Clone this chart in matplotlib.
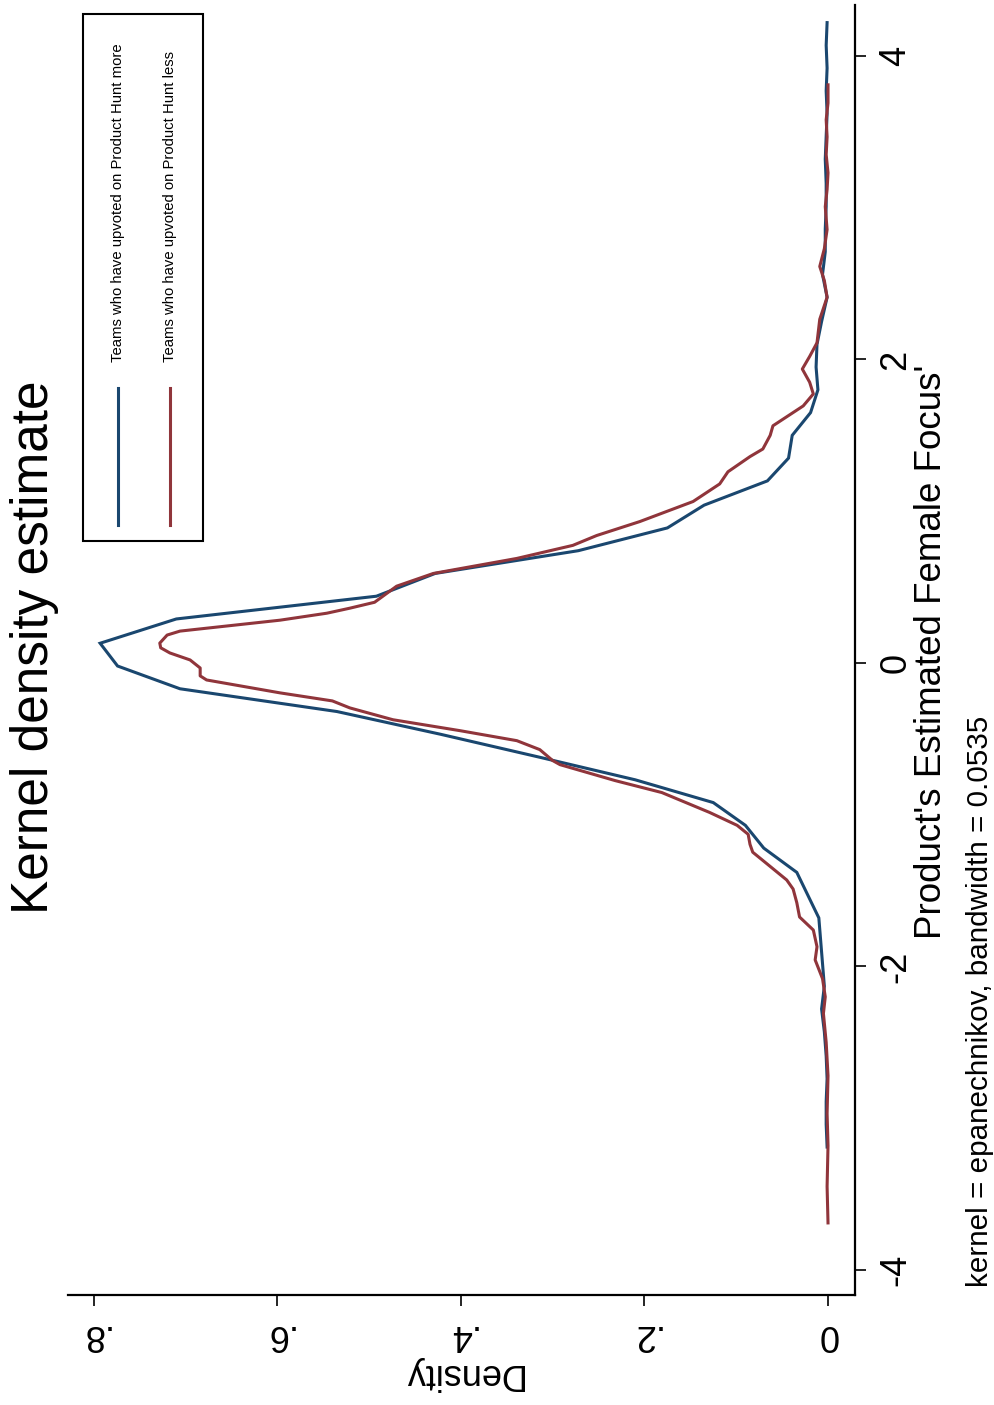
import matplotlib
matplotlib.use("Agg")
import matplotlib.pyplot as plt
from matplotlib.patches import Rectangle
from matplotlib.lines import Line2D

plt.rcParams['font.family'] = ['Liberation Sans', 'DejaVu Sans']

# kdensity, teams who have upvoted on Product Hunt more (blue)
more_x = [-3.19, -3.04, -2.89, -2.74, -2.59, -2.43, -2.28, -2.13, -1.98, -1.83,
          -1.68, -1.53, -1.38, -1.22, -1.07, -0.92, -0.77, -0.62, -0.47, -0.32,
          -0.17, -0.02, 0.13, 0.29, 0.44, 0.59, 0.74, 0.89, 1.04, 1.20,
          1.35, 1.50, 1.65, 1.80, 1.95, 2.10, 2.25, 2.41, 2.56, 2.71,
          2.86, 3.01, 3.16, 3.32, 3.47, 3.62, 3.77, 3.92, 4.07, 4.22]
more_d = [0.001, 0.002, 0.002, 0.001, 0.002, 0.004, 0.007, 0.004, 0.006, 0.008,
          0.010, 0.022, 0.034, 0.070, 0.090, 0.125, 0.210, 0.315, 0.422, 0.535,
          0.706, 0.774, 0.793, 0.710, 0.492, 0.428, 0.272, 0.175, 0.135, 0.066,
          0.043, 0.039, 0.019, 0.011, 0.013, 0.012, 0.007, 0.001, 0.006, 0.003,
          0.003, 0.002, 0.002, 0.003, 0.002, 0.001, 0.002, 0.001, 0.002, 0.001]

# kdensity, teams who have upvoted on Product Hunt less (red)
less_x = [-3.69, -3.45, -3.18, -2.97, -2.72, -2.50, -2.31, -2.20, -2.08, -1.957,
          -1.87, -1.76, -1.674, -1.58, -1.49, -1.43, -1.326, -1.247, -1.195, -1.129,
          -1.07, -0.985, -0.854, -0.775, -0.67, -0.643, -0.571, -0.512, -0.446, -0.374,
          -0.296, -0.25, -0.197, -0.112, -0.085, -0.033, 0.02, 0.066, 0.10, 0.131,
          0.184, 0.21, 0.282, 0.328, 0.361, 0.40, 0.506, 0.59, 0.689, 0.775,
          0.84, 0.932, 1.064, 1.18, 1.26, 1.36, 1.41, 1.50, 1.563, 1.694,
          1.773, 1.85, 1.937, 2.02, 2.11, 2.265, 2.41, 2.52, 2.613, 2.73,
          2.856, 3.007, 3.12, 3.23, 3.35, 3.467, 3.58, 3.69, 3.81]
less_d = [0.000, 0.001, 0.000, 0.001, 0.000, 0.002, 0.005, 0.003, 0.006, 0.014,
          0.012, 0.016, 0.031, 0.034, 0.038, 0.045, 0.066, 0.082, 0.085, 0.087,
          0.099, 0.129, 0.181, 0.232, 0.292, 0.300, 0.314, 0.339, 0.401, 0.474,
          0.521, 0.540, 0.597, 0.677, 0.684, 0.684, 0.695, 0.717, 0.727, 0.728,
          0.720, 0.706, 0.597, 0.546, 0.521, 0.494, 0.470, 0.430, 0.339, 0.278,
          0.252, 0.205, 0.147, 0.118, 0.109, 0.085, 0.071, 0.063, 0.060, 0.027,
          0.016, 0.020, 0.028, 0.020, 0.012, 0.009, 0.001, 0.004, 0.009, 0.004,
          0.001, 0.003, 0.001, 0.000, 0.002, 0.001, 0.002, 0.000, 0.000]

x_ticks = [-4, -2, 0, 2, 4]
x_tick_labels = ['-4', '-2', '0', '2', '4']
d_ticks = [0, 0.2, 0.4, 0.6, 0.8]
d_tick_labels = ['0', '.2', '.4', '.6', '.8']
series_labels = ['Teams who have upvoted on Product Hunt more',
                 'Teams who have upvoted on Product Hunt less']

BLUE = '#1a476f'
RED = '#90353b'
W, H = 995, 1405


def fx(px):
    return px / W


def fy(py):
    return 1 - py / H


fig = plt.figure(figsize=(W / 100, H / 100), dpi=100)
# whole stata graph is turned a quarter turn counter-clockwise
ax = fig.add_axes([fx(68), fy(1295), fx(855) - fx(68), fy(5) - fy(1295)])

ax.plot(more_d, more_x, color=BLUE, lw=2.2, solid_joinstyle='miter')
ax.plot(less_d, less_x, color=RED, lw=2.2, solid_joinstyle='round')

ax.set_xlim(0.828, -0.0294)
ax.set_ylim(-4.165, 4.336)

for s in ['top', 'left']:
    ax.spines[s].set_visible(False)
for s in ['right', 'bottom']:
    ax.spines[s].set_linewidth(1.6)

ax.yaxis.tick_right()
ax.set_yticks(x_ticks)
ax.set_yticklabels(x_tick_labels)
ax.set_xticks(d_ticks)
ax.set_xticklabels(d_tick_labels)
ax.tick_params(axis='y', length=8, width=1.2, labelsize=26, labelrotation=90, pad=9)
ax.tick_params(axis='x', length=8, width=1.2, labelsize=26, labelrotation=180, pad=8)
for t in ax.get_yticklabels():
    t.set_va('center')
    t.set_ha('left')

ax.set_xlabel('Density', fontsize=26, rotation=180, labelpad=3)

fig.text(fx(932), fy(652), "Product's Estimated Female Focus'", fontsize=26.5,
         rotation=90, ha='center', va='center')
fig.text(fx(35), fy(647), 'Kernel density estimate', fontsize=37,
         rotation=90, ha='center', va='center')
fig.text(fx(980), fy(1287), 'kernel = epanechnikov, bandwidth = 0.0535', fontsize=21.3,
         rotation=90, rotation_mode='anchor', ha='left', va='center')

# legend box
fig.patches.append(Rectangle((fx(83), fy(541)), fx(203) - fx(83), fy(14) - fy(541),
                             transform=fig.transFigure, fill=False, ec='black', lw=1.5))
for xpos, col, lab in zip([118, 170], [BLUE, RED], series_labels):
    fig.lines.append(Line2D([fx(xpos), fx(xpos)], [fy(525), fy(388)],
                            transform=fig.transFigure, color=col, lw=2.2))
    fig.text(fx(xpos), fy(362), lab, fontsize=10.7, rotation=90,
             rotation_mode='anchor', ha='left', va='center')

fig.savefig('out.png', dpi=100, facecolor='white')
